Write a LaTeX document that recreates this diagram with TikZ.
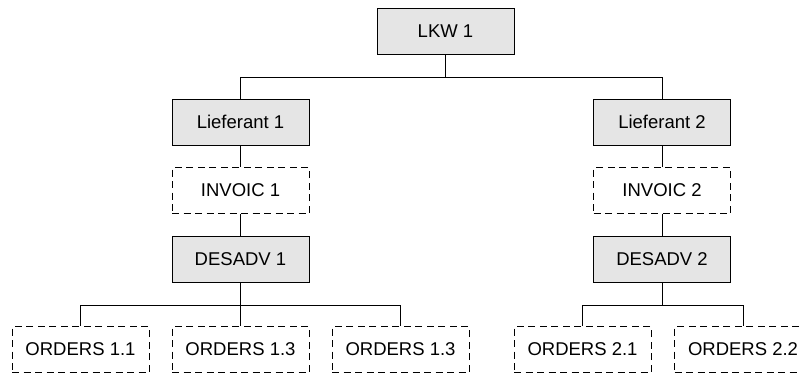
\documentclass[tikz,border=0pt]{standalone}
\usepackage{fontspec}
\setmainfont{Liberation Sans}
\usepackage{tikz}

\begin{document}
\begin{tikzpicture}[x=1pt,y=-1pt]
              \tikzstyle{every node}+=[inner sep=0pt, font=\fontsize{18.5}{22}\selectfont]
              \tikzstyle{solidbox}=[draw=black, fill=black!10, line width=0.9pt, minimum width=137pt, minimum height=46pt]
              \tikzstyle{dashbox}=[draw=black, dash pattern=on 7pt off 4.5pt, line width=0.9pt, minimum width=137pt, minimum height=46pt]
              \tikzstyle{link}=[black, line width=0.9pt]
              \clip (0,0) rectangle (800,373);
              % root
              \node [solidbox] (lkw) at (445.5,31) {LKW 1};
              % left branch
              \node [solidbox] (lief1) at (240.5,122) {Lieferant 1};
              \node [dashbox] (invoic1) at (240.5,190.5) {INVOIC 1};
              \node [solidbox] (desadv1) at (240.5,259.5) {DESADV 1};
              \node [dashbox] (ord11) at (80.5,349.5) {ORDERS 1.1};
              \node [dashbox] (ord12) at (240.5,349.5) {ORDERS 1.3};
              \node [dashbox] (ord13) at (400.5,349.5) {ORDERS 1.3};
              % right branch
              \node [solidbox] (lief2) at (662,122) {Lieferant 2};
              \node [dashbox] (invoic2) at (662,190.5) {INVOIC 2};
              \node [solidbox] (desadv2) at (662,259.5) {DESADV 2};
              \node [dashbox] (ord21) at (582.5,349.5) {ORDERS 2.1};
              \node [dashbox] (ord22) at (743,349.5) {ORDERS 2.2};
              % connectors
              \draw [link] (lkw.south) -- ++(0,23) -| (lief1.north);
              \draw [link] (lkw.south) -- ++(0,23) -| (lief2.north);
              \draw [link] (lief1) -- (invoic1);
              \draw [link] (invoic1) -- (desadv1);
              \draw [link] (lief2) -- (invoic2);
              \draw [link] (invoic2) -- (desadv2);
              \draw [link] (desadv1.south) -- ++(0,22) -| (ord11.north);
              \draw [link] (desadv1) -- (ord12);
              \draw [link] (desadv1.south) -- ++(0,22) -| (ord13.north);
              \draw [link] (desadv2.south) -- ++(0,22) -| (ord21.north);
              \draw [link] (desadv2.south) -- ++(0,22) -| (ord22.north);
            \end{tikzpicture}
\end{document}
